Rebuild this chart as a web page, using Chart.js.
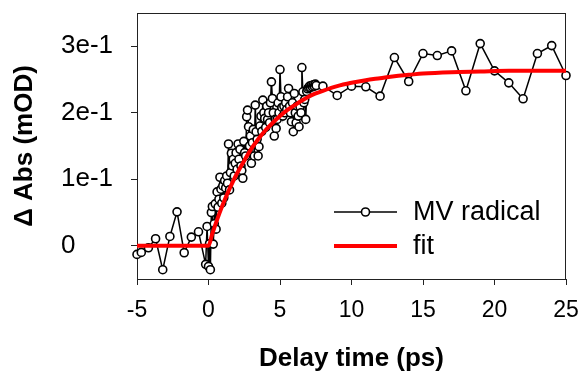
<!DOCTYPE html>
<html>
<head>
<meta charset="utf-8">
<script src="https://cdn.jsdelivr.net/npm/chart.js@4"></script>
<style>
    html, body { margin: 0; padding: 0; background: #fff; }
    #wrap { width: 579px; height: 374px; }
</style>
</head>
<body>
<div id="wrap"><canvas id="chart"></canvas></div>
<script>
// MV radical transient absorption
const delayTime = [
    -5.0, -4.7, -4.2, -3.7, -3.2, -2.7, -2.2, -1.7, -1.2, -0.7,
    -0.2, -0.1, 0.0, 0.07, 0.13, 0.2, 0.27, 0.33, 0.4, 0.47,
    0.53, 0.6, 0.67, 0.73, 0.8, 0.87, 0.93, 1.0, 1.07, 1.13,
    1.2, 1.27, 1.33, 1.4, 1.47, 1.53, 1.6, 1.67, 1.73, 1.8,
    1.87, 1.93, 2.0, 2.07, 2.13, 2.2, 2.27, 2.33, 2.4, 2.47,
    2.53, 2.6, 2.67, 2.73, 2.8, 2.87, 2.93, 3.0, 3.07, 3.13,
    3.2, 3.27, 3.33, 3.4, 3.47, 3.53, 3.6, 3.67, 3.73, 3.8,
    3.87, 3.93, 4.0, 4.07, 4.13, 4.2, 4.27, 4.33, 4.4, 4.47,
    4.53, 4.6, 4.67, 4.73, 4.8, 4.87, 4.93, 5.0, 5.07, 5.13,
    5.2, 5.27, 5.33, 5.4, 5.47, 5.53, 5.6, 5.67, 5.73, 5.8,
    5.87, 5.93, 6.0, 6.07, 6.13, 6.2, 6.27, 6.33, 6.4, 6.47,
    6.53, 6.6, 6.67, 6.73, 6.8, 6.87, 6.93, 7.0, 7.07, 7.13,
    7.2, 7.27, 7.33, 7.4, 7.47, 7.53,
    8, 9, 10, 11, 12, 13, 14, 15, 16, 17,
    18, 19, 20, 21, 22, 23, 24, 25
];
const deltaAbs = [
    -0.013, -0.010, -0.003, 0.0105, -0.036, 0.014, 0.051, -0.0105, 0.013, 0.021,
    -0.028, 0.029, -0.031, 0.003, -0.036, 0.050, 0.059, 0.0025, 0.033, 0.063,
    0.025, 0.081, 0.058, 0.070, 0.103, 0.085, 0.064, 0.090, 0.072, 0.098,
    0.087, 0.105, 0.094, 0.153, 0.084, 0.110, 0.139, 0.120, 0.130, 0.105,
    0.124, 0.140, 0.115, 0.153, 0.130, 0.145, 0.120, 0.113, 0.1015, 0.157,
    0.140, 0.135, 0.194, 0.204, 0.179, 0.150, 0.165, 0.124, 0.155, 0.175,
    0.135, 0.2115, 0.1715, 0.160, 0.135, 0.149, 0.180, 0.195, 0.172, 0.219,
    0.200, 0.1915, 0.178, 0.210, 0.190, 0.200, 0.185, 0.215, 0.2465, 0.2215,
    0.200, 0.165, 0.190, 0.1765, 0.190, 0.215, 0.200, 0.265, 0.224, 0.208,
    0.195, 0.210, 0.200, 0.215, 0.205, 0.224, 0.2365, 0.210, 0.200, 0.1865,
    0.215, 0.1715, 0.229, 0.200, 0.185, 0.210, 0.195, 0.179, 0.209, 0.200,
    0.268, 0.2315, 0.215, 0.220, 0.190, 0.232, 0.236, 0.238, 0.240, 0.238,
    0.241, 0.239, 0.242, 0.240, 0.243, 0.241,
    0.240, 0.226, 0.240, 0.239, 0.225, 0.283, 0.247, 0.289, 0.286, 0.293,
    0.233, 0.304, 0.263, 0.245, 0.221, 0.289, 0.301, 0.256
];

// fit curve
const fitTime = [-5, 0, 0.25, 0.5, 0.75, 1, 1.5, 2, 2.5, 3, 3.5, 4, 4.5, 5, 5.5, 6, 6.5, 7, 7.5, 8, 9, 10, 11, 12, 13, 14, 15, 17, 19, 21, 23, 25];
const fitAbs = [0, 0, 0.017, 0.033, 0.048, 0.062, 0.087, 0.109, 0.128, 0.146, 0.161, 0.174, 0.185, 0.195, 0.204, 0.211, 0.218, 0.224, 0.229, 0.233, 0.240, 0.245, 0.249, 0.252, 0.255, 0.257, 0.259, 0.261, 0.262, 0.263, 0.263, 0.263];

const xTicks = [-5, 0, 5, 10, 15, 20, 25];
const yTicks = [0, 0.1, 0.2, 0.3];
const yTickLabels = ["0", "1e-1", "2e-1", "3e-1"];
const yTitle = "Δ Abs (mOD)";

const FONT = "Arial, 'Liberation Sans', sans-serif";

// box round the plot area, plus the rotated y title
const framePlugin = {
    id: "frame",
    beforeDatasetsDraw(chart) {
        const { ctx, chartArea: a } = chart;
        ctx.save();
        ctx.strokeStyle = "#222";
        ctx.lineWidth = 1;
        ctx.strokeRect(a.left + 0.5, a.top + 0.5, a.right - a.left - 1, a.bottom - a.top);

        ctx.translate(25, (a.top + a.bottom) / 2);
        ctx.rotate(-Math.PI / 2);
        ctx.fillStyle = "#000";
        ctx.font = "bold 26px " + FONT;
        ctx.textAlign = "center";
        ctx.textBaseline = "middle";
        ctx.fillText(yTitle, 0, 0);
        ctx.restore();
    }
};

// legend sits inside the plot, lower right
const legendPlugin = {
    id: "insideLegend",
    afterDatasetsDraw(chart) {
        const ctx = chart.ctx;
        const sets = chart.data.datasets;
        const x0 = 334, x1 = 397, tx = 413;
        const rows = [212, 246];
        ctx.save();
        sets.forEach((ds, i) => {
            const y = rows[i];
            ctx.strokeStyle = ds.borderColor;
            ctx.lineWidth = ds.borderWidth;
            ctx.beginPath();
            ctx.moveTo(x0, y);
            ctx.lineTo(x1, y);
            ctx.stroke();
            if (ds.pointRadius > 0) {
                ctx.fillStyle = ds.pointBackgroundColor;
                ctx.strokeStyle = ds.pointBorderColor;
                ctx.lineWidth = ds.pointBorderWidth;
                ctx.beginPath();
                ctx.arc((x0 + x1) / 2, y, ds.pointRadius, 0, Math.PI * 2);
                ctx.fill();
                ctx.stroke();
            }
            ctx.fillStyle = "#000";
            ctx.font = "27px " + FONT;
            ctx.textBaseline = "middle";
            ctx.textAlign = "left";
            ctx.fillText(ds.label, tx, y + 1);
        });
        ctx.restore();
    }
};

new Chart(document.getElementById("chart"), {
    type: "scatter",
    data: {
        datasets: [{
            label: "MV radical",
            data: delayTime.map((t, i) => ({ x: t, y: deltaAbs[i] })),
            showLine: true,
            borderColor: "#000",
            borderWidth: 1.5,
            pointRadius: 4,
            pointBorderWidth: 1.6,
            pointBackgroundColor: "#fff",
            pointBorderColor: "#000",
            tension: 0,
            clip: false,
            order: 1
        }, {
            label: "fit",
            data: fitTime.map((t, i) => ({ x: t, y: fitAbs[i] })),
            showLine: true,
            borderColor: "#ff0000",
            borderWidth: 4,
            pointRadius: 0,
            cubicInterpolationMode: "monotone",
            order: 0
        }]
    },
    options: {
        responsive: true,
        maintainAspectRatio: false,
        animation: false,
        devicePixelRatio: 1,
        layout: { autoPadding: false, padding: { left: 61, top: 13, right: 13, bottom: 0 } },
        plugins: {
            legend: { display: false },
            tooltip: { enabled: false }
        },
        scales: {
            x: {
                type: "linear",
                min: -5,
                max: 25,
                afterBuildTicks: axis => { axis.ticks = xTicks.map(v => ({ value: v })); },
                afterFit: axis => {
                    axis.height = 95;
                    axis.paddingLeft = 0;
                    axis.paddingRight = 0;
                },
                ticks: {
                    color: "#000",
                    padding: 12,
                    font: { family: FONT, size: 23 }
                },
                grid: { drawOnChartArea: false, drawTicks: true, tickLength: 6, tickColor: "#222" },
                border: { display: true, color: "#222", width: 1 },
                title: {
                    display: true,
                    text: "Delay time (ps)",
                    color: "#000",
                    font: { family: FONT, size: 26, weight: "bold", lineHeight: 1.2 },
                    padding: { top: 0, bottom: 0 }
                }
            },
            y: {
                type: "linear",
                min: -0.05,
                max: 0.35,
                afterBuildTicks: axis => { axis.ticks = yTicks.map(v => ({ value: v })); },
                afterFit: axis => {
                    axis.width = 76;
                    axis.paddingTop = 0;
                    axis.paddingBottom = 0;
                },
                ticks: {
                    color: "#000",
                    padding: 18,
                    crossAlign: "far",
                    font: { family: FONT, size: 26 },
                    callback: v => yTickLabels[yTicks.findIndex(t => Math.abs(t - v) < 1e-9)] ?? ""
                },
                grid: { drawOnChartArea: false, drawTicks: true, tickLength: 6, tickColor: "#222" },
                border: { display: true, color: "#222", width: 1 }
            }
        }
    },
    plugins: [framePlugin, legendPlugin]
});
</script>
</body>
</html>
